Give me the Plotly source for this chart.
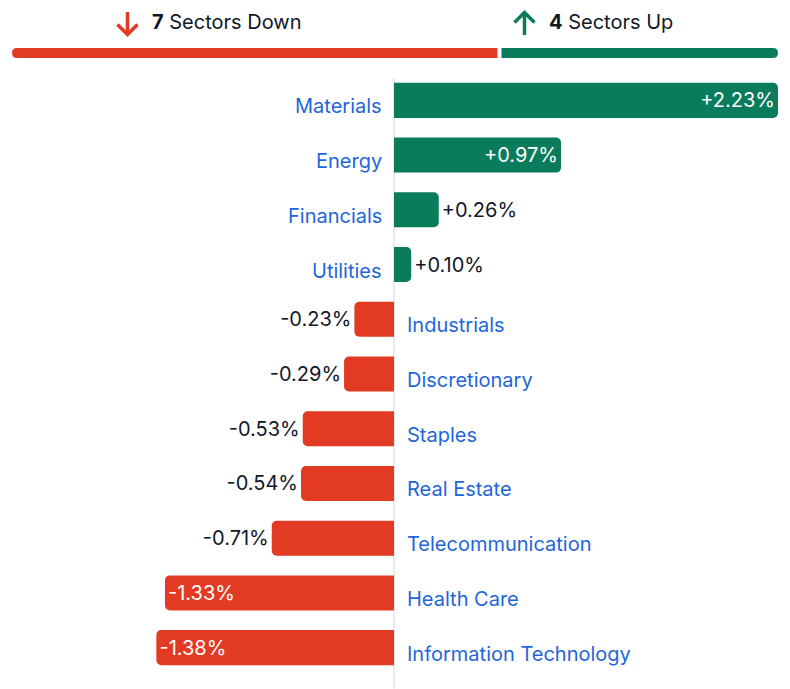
import plotly.graph_objects as go

sectors = ["Materials", "Energy", "Financials", "Utilities", "Industrials", "Discretionary",
           "Staples", "Real Estate", "Telecommunication", "Health Care", "Information Technology"]
changes = [2.23, 0.97, 0.26, 0.10, -0.23, -0.29, -0.53, -0.54, -0.71, -1.33, -1.38]
n_down = 7
n_up = 4

GREEN = "#0a7c5c"
RED = "#e33a24"
BLUE = "#1f66d9"
DARK = "#111827"
FONT = "Inter"
FS = 20

W, H = 790, 689
ML, MR, MT, MB = 0, 0, 73, 13.5
PX_PER_UNIT = 172.2
CENTER = 394

def px(x):
    return (x - ML) / (W - ML - MR)

def py(y):
    return (H - MB - y) / (H - MT - MB)

colors = [GREEN if v >= 0 else RED for v in changes]
labels = [("+" if v >= 0 else "") + f"{v:.2f}%" for v in changes]
positions = ["inside" if abs(v) > 0.9 else "outside" for v in changes]

fig = go.Figure()
fig.add_trace(go.Bar(
    x=changes, y=sectors, orientation="h",
    marker=dict(color=colors, cornerradius=5, line=dict(width=0)),
    width=0.64,
    text=labels, textposition=positions, insidetextanchor="end",
    insidetextfont=dict(color="white", size=FS, family=FONT),
    outsidetextfont=dict(color=DARK, size=FS, family=FONT),
    cliponaxis=False, hoverinfo="skip",
))

annotations = []
for s, v in zip(sectors, changes):
    annotations.append(dict(
        x=0, y=s, xref="x", yref="y", text=s, showarrow=False,
        xanchor="right" if v >= 0 else "left",
        xshift=-10 if v >= 0 else 11, yshift=-6,
        font=dict(color=BLUE, size=FS, family=FONT),
    ))

# header texts
annotations.append(dict(x=px(150), y=py(22), xref="paper", yref="paper",
                        text=f"<b>{n_down}</b> Sectors Down", showarrow=False,
                        xanchor="left", yanchor="middle",
                        font=dict(color=DARK, size=FS, family=FONT)))
annotations.append(dict(x=px(547), y=py(22), xref="paper", yref="paper",
                        text=f"<b>{n_up}</b> Sectors Up", showarrow=False,
                        xanchor="left", yanchor="middle",
                        font=dict(color=DARK, size=FS, family=FONT)))

shapes = []
# center line
shapes.append(dict(type="line", xref="x", yref="paper", x0=0, x1=0,
                   y0=py(689), y1=py(78), line=dict(color="#d6d6d6", width=1), layer="below"))

# arrows
def path_px(points, close=False):
    s = "M" + " L".join(f"{px(x):.5f},{py(y):.5f}" for x, y in points)
    return s + (" Z" if close else "")

AW = 3.5
shapes.append(dict(type="path", xref="paper", yref="paper",
                   path=path_px([(127.5, 12), (127.5, 34)]), line=dict(color=RED, width=AW)))
shapes.append(dict(type="path", xref="paper", yref="paper",
                   path=path_px([(117.5, 24.5), (127.5, 34.5), (137.5, 24.5)]), line=dict(color=RED, width=AW)))
shapes.append(dict(type="path", xref="paper", yref="paper",
                   path=path_px([(524.5, 35), (524.5, 13)]), line=dict(color=GREEN, width=AW)))
shapes.append(dict(type="path", xref="paper", yref="paper",
                   path=path_px([(514.5, 22.5), (524.5, 12.5), (534.5, 22.5)]), line=dict(color=GREEN, width=AW)))

# progress bar
x_start, x_end, gap = 12, 778, 4
total = n_down + n_up
split = x_start + (x_end - x_start) * n_down / total
y0, y1, r = 48, 58, 5

def P(x, y):
    return f"{px(x):.5f},{py(y):.5f}"

red_path = (f"M{P(x_start + r, y0)} L{P(split - gap / 2, y0)} L{P(split - gap / 2, y1)} "
            f"L{P(x_start + r, y1)} Q{P(x_start, y1)} {P(x_start, (y0 + y1) / 2)} "
            f"Q{P(x_start, y0)} {P(x_start + r, y0)} Z")
green_path = (f"M{P(split + gap / 2, y0)} L{P(x_end - r, y0)} Q{P(x_end, y0)} {P(x_end, (y0 + y1) / 2)} "
              f"Q{P(x_end, y1)} {P(x_end - r, y1)} L{P(split + gap / 2, y1)} Z")
shapes.append(dict(type="path", xref="paper", yref="paper", path=red_path,
                   fillcolor=RED, line=dict(width=0)))
shapes.append(dict(type="path", xref="paper", yref="paper", path=green_path,
                   fillcolor=GREEN, line=dict(width=0)))

xr0 = -(CENTER - ML) / PX_PER_UNIT
xr1 = (W - MR - CENTER) / PX_PER_UNIT

fig.update_layout(
    width=W, height=H,
    margin=dict(l=ML, r=MR, t=MT, b=MB, pad=0),
    paper_bgcolor="white", plot_bgcolor="white",
    showlegend=False,
    xaxis=dict(range=[xr0, xr1], visible=False, fixedrange=True),
    yaxis=dict(categoryorder="array", categoryarray=sectors, autorange="reversed",
               visible=False, fixedrange=True),
    annotations=annotations, shapes=shapes,
    font=dict(family=FONT),
)

fig.write_html("out.html", config={"displayModeBar": False})
